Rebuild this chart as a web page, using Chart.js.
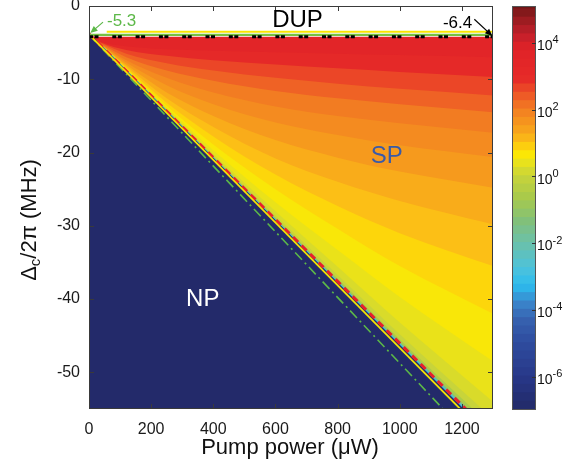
<!DOCTYPE html>
<html>
<head>
<meta charset="utf-8">
<script src="https://cdn.jsdelivr.net/npm/chart.js@4.4.1/dist/chart.umd.min.js"></script>
<style>
    html, body { margin: 0; padding: 0; background: #fff; }
    #wrap { position: relative; width: 581px; height: 468px; }
    #wrap canvas { position: absolute; left: 0; top: 0; }
</style>
</head>
<body>
<div id="wrap">
    <canvas id="phase" width="581" height="468"></canvas>
    <canvas id="cbar" width="581" height="468"></canvas>
</div>
<script>
// Axis ticks
const xTicks = [0, 200, 400, 600, 800, 1000, 1200];
const yTicks = [0, -10, -20, -30, -40, -50];
const cbExponents = [-6, -4, -2, 0, 2, 4];

const pumpPower = [0, 40, 120, 250, 400, 600, 800, 1000, 1300];

// log10 value of the band lying under each contour line
const topLevel = 3.5;
const topEdge = -4.2;
const contourLevels = [3.0, 2.6, 2.3, 2.0, 1.75, 1.5, 1.25, 1.0, 0.8, 0.6, 0.4, 0.2, 0.0, -0.6, -1.5, -2.5, -3.4];

// Detuning (MHz) of each contour line at pumpPower
const contourDetuning = [
    [-4.2, -4.9, -5.5, -5.9, -6.1, -6.3, -6.5, -6.7, -7.0],
    [-4.2, -5.0, -6.0, -6.8, -7.4, -8.0, -8.5, -9.0, -9.7],
    [-4.2, -5.1, -6.5, -7.8, -8.8, -9.8, -10.6, -11.3, -12.2],
    [-4.2, -5.2, -7.0, -8.8, -10.2, -11.6, -12.6, -13.4, -14.5],
    [-4.2, -5.3, -7.4, -9.8, -11.8, -13.7, -15.0, -16.0, -17.3],
    [-4.2, -5.3, -7.7, -10.8, -13.4, -15.9, -17.6, -19.0, -20.6],
    [-4.2, -5.35, -8.0, -11.8, -15.0, -18.3, -20.7, -22.6, -24.8],
    [-4.2, -5.35, -8.2, -12.6, -16.5, -20.8, -24.0, -26.6, -29.8],
    [-4.2, -5.4, -8.4, -13.2, -17.8, -23.0, -27.3, -31.0, -35.5],
    [-4.2, -5.4, -8.5, -13.6, -18.9, -25.0, -30.4, -35.5, -42.0],
    [-4.2, -5.4, -8.6, -13.9, -19.7, -26.8, -33.3, -39.7, -48.5],
    [-4.2, -5.4, -8.65, -14.05, -20.2, -28.0, -35.6, -43.2, -54.0],
    [-4.2, -5.4, -8.7, -14.15, -20.45, -28.6, -36.7, -44.8, -56.3],
    [-4.2, -5.4, -8.73, -14.2, -20.55, -28.9, -37.2, -45.5, -57.6],
    [-4.2, -5.4, -8.76, -14.24, -20.62, -29.05, -37.45, -45.85, -58.3],
    [-4.2, -5.4, -8.78, -14.27, -20.66, -29.12, -37.57, -46.0, -58.65],
    [-4.2, -5.4, -8.79, -14.29, -20.68, -29.17, -37.65, -46.12, -58.85]
];

// Straight lines, given at edgePower = 0 and 1300
const edgePower = [0, 1300];
const npEdge = [-3.7, -59.0];
const yellowTheory = [-3.9, -59.5];
const redTheory = [-3.8, -58.7];
const greenTheory = [-3.9, -62.2];

// Lines along the DUP border
const dupYellowPower = [57, 1300];
const dupYellow = [-3.5, -3.5];
const dupGreen = [-3.95, -3.95];
const dupBlack = [-4.2, -4.2];

// Colour map
const cmapStops = [
    [-7.0, '#222a68'], [-6.0, '#283889'], [-5.0, '#2f4c9f'], [-4.3, '#3762b0'],
    [-3.8, '#3a86cc'], [-3.3, '#2cbcee'], [-2.8, '#4cc2dc'], [-2.0, '#6cc1a8'],
    [-1.4, '#80c07c'], [-0.7, '#a6c94c'], [0.0, '#c8d43a'], [0.35, '#e6e11e'],
    [0.65, '#fde803'], [1.0, '#fcbf16'], [1.4, '#f7a01c'], [2.0, '#f27c22'],
    [2.4, '#ee5926'], [2.9, '#e62a28'], [3.8, '#e02228'], [4.2, '#c4202a'],
    [4.6, '#a01c22'], [5.1, '#6e1616']
];

const hex = h => [1, 3, 5].map(i => parseInt(h.substr(i, 2), 16));
function cmap(v) {
    if (v <= cmapStops[0][0]) return cmapStops[0][1];
    for (let i = 1; i < cmapStops.length; i++) {
        const [v1, c1] = cmapStops[i];
        if (v <= v1) {
            const [v0, c0] = cmapStops[i - 1];
            const t = (v - v0) / (v1 - v0);
            const a = hex(c0), b = hex(c1);
            const rgb = a.map((x, k) => Math.round(x + (b[k] - x) * t));
            return `rgb(${rgb.join(',')})`;
        }
    }
    return cmapStops[cmapStops.length - 1][1];
}

const pts = (xs, ys) => xs.map((x, i) => ({ x, y: ys[i] }));
const FONT = "'Liberation Sans', Arial, sans-serif";
const NONE = 'rgba(0,0,0,0)';

// Build datasets: higher order is drawn further back
const datasets = [];
datasets.push({
    data: pts(edgePower, [topEdge, topEdge]),
    fill: 'start', backgroundColor: cmap(topLevel), borderColor: NONE, borderWidth: 0, order: 100
});
contourDetuning.forEach((row, i) => {
    datasets.push({
        data: pts(pumpPower, row),
        fill: 'start', backgroundColor: cmap(contourLevels[i]), borderColor: NONE, borderWidth: 0,
        cubicInterpolationMode: 'monotone', order: 99 - i
    });
});
datasets.push({ data: pts(edgePower, npEdge), fill: 'start', backgroundColor: '#232a6a', borderColor: NONE, borderWidth: 0, order: 20 });
datasets.push({ data: pts(edgePower, greenTheory), fill: false, borderColor: '#5cb848', borderWidth: 1.6, borderDash: [10, 4, 2, 4], order: 6 });
datasets.push({ data: pts(edgePower, redTheory), fill: false, borderColor: '#e8202a', borderWidth: 3, borderDash: [7, 5], order: 5 });
datasets.push({ data: pts(edgePower, yellowTheory), fill: false, borderColor: '#f4e500', borderWidth: 1.8, order: 4 });
datasets.push({ data: pts(edgePower, dupGreen), fill: false, borderColor: '#76c043', borderWidth: 2.2, order: 3 });
datasets.push({ data: pts(dupYellowPower, dupYellow), fill: false, borderColor: '#f7e600', borderWidth: 2, order: 2 });
datasets.push({ data: pts(edgePower, dupBlack), fill: false, borderColor: '#000', borderWidth: 3.2, borderDash: [4, 1.5, 4, 13.8], borderDashOffset: 0, order: 1 });

function arrow(ctx, x0, y0, x1, y1, color) {
    const ang = Math.atan2(y1 - y0, x1 - x0);
    ctx.strokeStyle = color;
    ctx.fillStyle = color;
    ctx.lineWidth = 1.2;
    ctx.beginPath();
    ctx.moveTo(x0, y0);
    ctx.lineTo(x1 - 5 * Math.cos(ang), y1 - 5 * Math.sin(ang));
    ctx.stroke();
    ctx.beginPath();
    ctx.moveTo(x1, y1);
    ctx.lineTo(x1 - 8 * Math.cos(ang - 0.4), y1 - 8 * Math.sin(ang - 0.4));
    ctx.lineTo(x1 - 8 * Math.cos(ang + 0.4), y1 - 8 * Math.sin(ang + 0.4));
    ctx.closePath();
    ctx.fill();
}

// Frame, inward ticks, titles and labels
const framePlugin = {
    id: 'frame',
    afterDraw(chart) {
        const { ctx, chartArea: a, scales: { x, y } } = chart;
        ctx.save();
        ctx.strokeStyle = '#3a3a3a';
        ctx.lineWidth = 1;
        ctx.strokeRect(a.left + 0.5, a.top + 0.5, a.right - a.left - 1, a.bottom - a.top - 1);
        ctx.beginPath();
        xTicks.forEach(v => {
            const px = Math.round(x.getPixelForValue(v)) + 0.5;
            ctx.moveTo(px, a.bottom); ctx.lineTo(px, a.bottom - 5);
            ctx.moveTo(px, a.top); ctx.lineTo(px, a.top + 5);
        });
        yTicks.forEach(v => {
            const py = Math.round(y.getPixelForValue(v)) + 0.5;
            ctx.moveTo(a.left, py); ctx.lineTo(a.left + 5, py);
            ctx.moveTo(a.right, py); ctx.lineTo(a.right - 5, py);
        });
        ctx.stroke();

        // x title
        ctx.fillStyle = '#111';
        ctx.textAlign = 'center';
        ctx.textBaseline = 'middle';
        ctx.font = `22px ${FONT}`;
        ctx.fillText('Pump power (\u03bcW)', 290, 448);

        // y title with subscript
        ctx.save();
        ctx.translate(30, 220);
        ctx.rotate(-Math.PI / 2);
        ctx.textAlign = 'left';
        const big = `22px ${FONT}`, small = `15px ${FONT}`;
        ctx.font = big; const w1 = ctx.measureText('\u0394').width;
        ctx.font = small; const w2 = ctx.measureText('c').width;
        ctx.font = big; const w3 = ctx.measureText('/2\u03c0 (MHz)').width;
        let sx = -(w1 + w2 + w3) / 2;
        ctx.font = big; ctx.fillText('\u0394', sx, 0); sx += w1;
        ctx.font = small; ctx.fillText('c', sx, 6); sx += w2;
        ctx.font = big; ctx.fillText('/2\u03c0 (MHz)', sx, 0);
        ctx.restore();

        // region labels
        ctx.textAlign = 'center';
        ctx.font = `24px ${FONT}`;
        ctx.fillStyle = '#000';
        ctx.fillText('DUP', x.getPixelForValue(671), y.getPixelForValue(-1.9));
        ctx.fillStyle = '#3a5aa8';
        ctx.fillText('SP', x.getPixelForValue(958), y.getPixelForValue(-20.5));
        ctx.fillStyle = '#fff';
        ctx.fillText('NP', x.getPixelForValue(366), y.getPixelForValue(-40.1));

        // value markers
        ctx.font = `17px ${FONT}`;
        ctx.fillStyle = '#5cb848';
        ctx.fillText('-5.3', x.getPixelForValue(105), y.getPixelForValue(-2.1));
        ctx.fillStyle = '#000';
        ctx.fillText('-6.4', x.getPixelForValue(1186), y.getPixelForValue(-2.3));
        arrow(ctx, x.getPixelForValue(45), y.getPixelForValue(-2.2), x.getPixelForValue(4), y.getPixelForValue(-3.7), '#5cb848');
        arrow(ctx, x.getPixelForValue(1240), y.getPixelForValue(-1.8), x.getPixelForValue(1298), y.getPixelForValue(-4.1), '#000');
        ctx.restore();
    }
};

new Chart(document.getElementById('phase'), {
    type: 'line',
    data: { datasets },
    options: {
        responsive: false,
        animation: false,
        devicePixelRatio: 1,
        layout: { padding: { left: 0, right: 88, top: 6, bottom: 0 } },
        plugins: { legend: { display: false }, tooltip: { enabled: false } },
        elements: { point: { radius: 0, hoverRadius: 0 } },
        scales: {
            x: {
                type: 'linear', min: 0, max: 1300,
                grid: { display: false, drawTicks: false },
                border: { display: false },
                afterBuildTicks: s => { s.ticks = xTicks.map(v => ({ value: v })); },
                afterFit: s => { s.height = 59; s.paddingLeft = 0; s.paddingRight = 0; },
                ticks: {
                    font: { family: FONT, size: 16 }, color: '#1a1a1a', padding: 11,
                    maxRotation: 0, autoSkip: false, callback: v => String(v)
                }
            },
            y: {
                type: 'linear', min: -55, max: 0,
                grid: { display: false, drawTicks: false },
                border: { display: false },
                afterBuildTicks: s => { s.ticks = yTicks.map(v => ({ value: v })); },
                afterFit: s => { s.width = 89; s.paddingTop = 0; s.paddingBottom = 0; },
                ticks: {
                    font: { family: FONT, size: 16 }, color: '#1a1a1a', padding: 9,
                    autoSkip: false, callback: v => String(v)
                }
            }
        }
    },
    plugins: [framePlugin]
});

// Colour bar
const cbMin = -7, cbMax = 5.1, cbStep = 0.25;
const cbBands = [];
for (let v = cbMin; v < cbMax - 1e-9; v += cbStep) cbBands.push(v);

const cbPlugin = {
    id: 'cbframe',
    afterDraw(chart) {
        const { ctx, chartArea: a, scales: { y } } = chart;
        ctx.save();
        ctx.strokeStyle = '#555';
        ctx.lineWidth = 1;
        ctx.strokeRect(a.left + 0.5, a.top + 0.5, a.right - a.left - 1, a.bottom - a.top - 1);
        ctx.beginPath();
        cbExponents.forEach(e => {
            const py = Math.round(y.getPixelForValue(Math.pow(10, e))) + 0.5;
            ctx.moveTo(a.right, py); ctx.lineTo(a.right - 4, py);
        });
        ctx.strokeStyle = '#333';
        ctx.stroke();
        ctx.fillStyle = '#111';
        ctx.textAlign = 'left';
        ctx.textBaseline = 'middle';
        cbExponents.forEach(e => {
            const py = y.getPixelForValue(Math.pow(10, e));
            ctx.font = `14px ${FONT}`;
            ctx.fillText('10', a.right + 1, py + 3.5);
            const w = ctx.measureText('10').width;
            ctx.font = `11px ${FONT}`;
            ctx.fillText(String(e), a.right + 1 + w, py - 2.5);
        });
        ctx.restore();
    }
};

new Chart(document.getElementById('cbar'), {
    type: 'bar',
    data: {
        labels: ['cb'],
        datasets: cbBands.map(lo => ({
            data: [[Math.pow(10, lo), Math.pow(10, Math.min(lo + cbStep + 0.02, cbMax))]],
            backgroundColor: cmap(lo + cbStep / 2),
            borderWidth: 0,
            grouped: false,
            barPercentage: 1,
            categoryPercentage: 1
        }))
    },
    options: {
        responsive: false,
        animation: false,
        devicePixelRatio: 1,
        layout: { padding: { left: 512, right: 45, top: 6, bottom: 58 } },
        plugins: { legend: { display: false }, tooltip: { enabled: false } },
        scales: {
            x: { display: false },
            y: {
                type: 'logarithmic', min: Math.pow(10, cbMin), max: Math.pow(10, cbMax),
                grid: { display: false, drawTicks: false },
                border: { display: false },
                ticks: { display: false },
                afterFit: s => { s.width = 0; s.paddingTop = 0; s.paddingBottom = 0; }
            }
        }
    },
    plugins: [cbPlugin]
});
</script>
</body>
</html>
